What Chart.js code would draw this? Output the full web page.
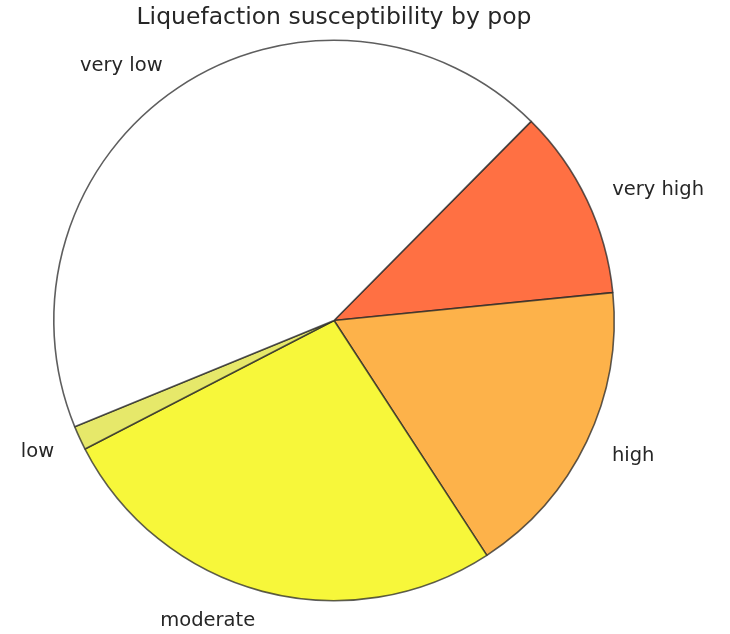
<!DOCTYPE html>
<html>
<head>
<meta charset="utf-8">
<script src="https://cdn.jsdelivr.net/npm/chart.js@4/dist/chart.umd.min.js"></script>
<style>
html,body{margin:0;padding:0;background:#fff;}
#wrap{width:730px;height:634px;position:relative;}
</style>
</head>
<body>
<div id="wrap"><canvas id="c" width="730" height="634"></canvas></div>
<script>
const title = "Liquefaction susceptibility by pop";
const categories = ["very high", "high", "moderate", "low", "very low"];
const values = [11.0, 17.4, 26.6, 1.4, 43.6];
const colors = ["#FF7043", "#FDB24A", "#F7F73A", "#E6E86A", "#FFFFFF"];

const labelPlugin = {
  id: 'mplLabels',
  afterDraw(chart) {
    const ctx = chart.ctx;
    const meta = chart.getDatasetMeta(0);
    ctx.save();
    ctx.fillStyle = '#262626';
    ctx.font = '19.5px "DejaVu Sans"';
    ctx.textBaseline = 'middle';
    meta.data.forEach((arc, i) => {
      const mid = (arc.startAngle + arc.endAngle) / 2;
      const r = arc.outerRadius * 1.1;
      const x = arc.x + Math.cos(mid) * r;
      const y = arc.y + Math.sin(mid) * r + 2;
      ctx.textAlign = Math.cos(mid) >= 0 ? 'left' : 'right';
      ctx.fillText(categories[i], x, y);
    });
    ctx.font = '23.5px "DejaVu Sans"';
    ctx.textAlign = 'center';
    ctx.textBaseline = 'alphabetic';
    ctx.fillText(title, meta.data[0].x, 24);
    ctx.restore();
  }
};

new Chart(document.getElementById('c'), {
  type: 'pie',
  data: {
    labels: categories,
    datasets: [{
      data: values,
      backgroundColor: colors,
      borderColor: 'rgba(40,40,40,0.75)',
      borderWidth: 1.6,
      borderAlign: 'center'
    }]
  },
  options: {
    responsive: false,
    animation: false,
    rotation: 44.7,
    layout: { padding: { left: 53, right: 115, top: 39.5, bottom: 32.5 } },
    plugins: {
      legend: { display: false },
      tooltip: { enabled: false },
      title: { display: false }
    }
  },
  plugins: [labelPlugin]
});
</script>
</body>
</html>
